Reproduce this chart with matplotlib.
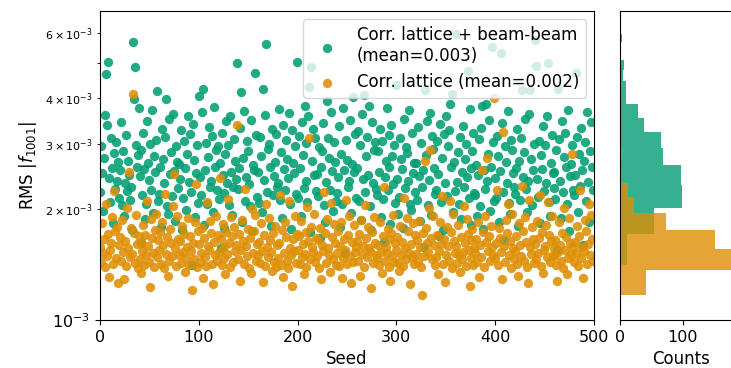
import matplotlib.pyplot as plt
import numpy as np

# RMS |f1001| for each seed (units of 1e-3)
bb_rms = [
    2.22, 2.97, 2.51, 1.98, 2.76, 3.60, 4.64, 3.38, 5.03, 2.43, 2.09, 3.12, 2.58, 1.83, 2.84, 2.27, 3.05, 2.38, 2.69, 2.14,
    2.55, 3.44, 2.05, 2.88, 1.91, 2.36, 3.17, 2.24, 2.71, 2.47, 2.12, 2.29, 1.76, 5.70, 3.97, 4.85, 2.99, 2.61, 2.80, 3.76,
    2.46, 1.62, 2.90, 2.18, 3.21, 2.57, 1.88, 2.07, 3.48, 2.66, 2.40, 3.01, 2.26, 3.71, 1.95, 2.79, 2.52, 3.09, 4.18, 2.11,
    2.20, 2.60, 1.79, 3.30, 2.74, 2.35, 3.14, 3.97, 2.04, 1.94, 3.52, 2.49, 2.86, 2.17, 3.63, 2.54, 1.86, 2.96, 2.68, 2.28,
    2.65, 2.41, 3.27, 1.75, 2.15, 3.07, 2.59, 1.99, 2.83, 3.57, 2.37, 3.19, 2.23, 1.41, 3.41, 2.72, 1.90, 2.50, 2.99, 2.08,
    4.05, 2.44, 2.19, 3.66, 4.23, 1.81, 2.56, 3.03, 2.06, 2.77, 3.35, 2.30, 2.39, 3.15, 1.97, 3.79, 2.61, 2.89, 2.25, 2.97,
    2.13, 2.67, 1.57, 3.22, 2.48, 1.78, 2.21, 2.82, 3.46, 2.36, 2.98, 2.05, 3.58, 2.53, 1.93, 2.29, 3.10, 2.70, 2.42, 5.00,
    2.27, 2.58, 3.33, 4.17, 1.85, 2.75, 3.70, 2.10, 2.45, 3.06, 2.87, 2.34, 2.04, 3.50, 1.74, 2.64, 2.55, 4.67, 3.18, 2.16,
    2.52, 2.08, 3.13, 2.78, 1.96, 4.25, 2.40, 3.61, 5.60, 2.22, 2.91, 3.00, 2.60, 1.80, 3.29, 2.18, 2.46, 2.69, 3.20, 2.30,
    2.35, 3.74, 2.12, 2.85, 1.89, 3.39, 2.57, 2.25, 3.08, 2.73, 2.43, 3.64, 2.06, 1.77, 3.27, 2.66, 2.50, 2.96, 2.20, 5.03,
    2.14, 3.16, 2.59, 1.92, 3.45, 2.80, 2.28, 3.80, 2.38, 3.02, 2.09, 3.59, 4.30, 1.73, 4.85, 2.71, 3.31, 2.47, 3.11, 2.24,
    2.49, 2.17, 2.95, 1.67, 2.61, 2.88, 3.42, 2.05, 1.84, 2.37, 3.92, 3.12, 2.76, 2.26, 3.68, 2.54, 1.98, 3.04, 2.68, 2.11,
    2.21, 2.44, 3.36, 1.79, 2.83, 2.07, 3.77, 2.56, 1.52, 3.09, 2.72, 2.29, 2.39, 3.49, 1.95, 2.65, 4.02, 2.52, 3.19, 2.15,
    2.58, 3.26, 2.10, 2.98, 1.87, 3.62, 2.41, 4.07, 2.23, 2.79, 3.14, 2.48, 3.81, 2.04, 1.76, 3.44, 2.36, 2.90, 3.05, 2.27,
    2.19, 2.87, 2.53, 3.30, 1.90, 3.07, 2.13, 1.63, 2.45, 2.70, 3.77, 2.25, 3.17, 2.60, 1.82, 3.38, 2.78, 2.34, 2.99, 2.08,
    4.35, 2.42, 1.94, 2.16, 3.11, 2.74, 2.57, 1.78, 3.52, 2.28, 2.95, 2.84, 2.38, 3.71, 2.06, 1.99, 3.21, 2.50, 2.67, 2.22,
    2.66, 2.12, 3.34, 2.46, 1.86, 3.02, 2.30, 2.55, 1.58, 4.20, 2.81, 3.47, 2.05, 2.40, 3.65, 1.93, 3.15, 2.91, 2.59, 2.20,
    2.26, 3.06, 2.49, 1.69, 3.40, 2.09, 2.76, 1.75, 3.19, 2.35, 3.57, 2.17, 2.97, 3.28, 3.86, 2.61, 4.12, 1.97, 2.69, 2.24,
    5.98, 2.37, 2.85, 2.07, 3.13, 1.88, 2.52, 3.37, 2.29, 2.73, 3.00, 2.44, 4.73, 2.14, 3.75, 1.81, 2.58, 2.88, 3.22, 2.21,
    2.18, 2.64, 1.91, 2.47, 3.10, 2.04, 3.32, 3.80, 1.77, 2.56, 2.27, 3.87, 2.39, 2.82, 3.50, 1.98, 2.60, 5.50, 3.04, 2.11,
    2.43, 2.15, 3.16, 2.79, 1.85, 2.54, 5.30, 3.43, 2.23, 1.65, 2.96, 2.68, 2.36, 3.69, 2.08, 1.94, 3.08, 2.89, 2.51, 2.30,
    2.20, 2.59, 3.29, 1.80, 2.71, 2.12, 3.12, 4.20, 2.45, 2.86, 3.51, 2.27, 1.96, 2.38, 3.63, 4.20, 2.74, 2.05, 2.55, 3.01,
    5.77, 4.88, 2.41, 2.16, 3.07, 1.83, 2.80, 2.57, 3.36, 2.24, 2.98, 2.35, 3.59, 4.97, 2.09, 1.92, 2.67, 3.18, 2.50, 2.28,
    2.53, 2.13, 2.90, 1.55, 4.25, 3.10, 2.39, 1.89, 3.47, 2.22, 2.77, 3.21, 2.60, 2.06, 3.72, 1.74, 2.46, 2.65, 2.99, 2.25,
    2.18, 2.48, 4.67, 3.14, 1.97, 2.83, 2.31, 3.33, 2.56, 1.60, 2.70, 3.05, 2.10, 3.66, 2.37, 1.84, 2.87, 3.45, 2.61, 2.26,
]

lat_rms = [
    1.58, 1.44, 1.83, 1.52, 1.66, 1.39, 2.07, 1.49, 1.71, 1.31, 1.55, 1.62, 1.90, 1.42, 2.24, 1.74, 1.47, 1.79, 1.26, 1.60,
    1.68, 1.45, 1.87, 1.53, 1.29, 1.64, 1.40, 2.02, 1.57, 2.52, 1.48, 1.78, 1.51, 4.12, 1.72, 1.43, 1.93, 1.61, 1.38, 1.69,
    1.46, 1.63, 1.34, 1.54, 1.81, 1.41, 1.70, 1.50, 2.11, 1.59, 1.44, 1.23, 1.88, 1.67, 1.52, 1.39, 1.75, 1.94, 1.48, 1.65,
    1.55, 1.73, 1.42, 1.85, 1.60, 1.38, 2.20, 1.51, 1.68, 1.32, 1.45, 1.77, 1.62, 1.49, 2.04, 2.49, 1.57, 1.40, 1.91, 1.66,
    1.50, 1.64, 1.43, 1.80, 1.53, 1.71, 1.35, 1.47, 1.58, 1.89, 1.41, 1.69, 1.54, 1.21, 1.62, 1.46, 1.84, 2.34, 1.39, 1.74,
    1.61, 1.44, 1.52, 1.78, 1.30, 1.67, 1.48, 1.40, 2.09, 1.59, 1.55, 1.86, 1.72, 1.42, 1.25, 1.63, 1.50, 1.92, 1.45, 1.70,
    1.53, 2.43, 1.66, 1.41, 1.82, 1.58, 1.47, 1.33, 1.73, 1.51, 2.13, 1.62, 1.39, 1.90, 1.69, 1.44, 1.79, 1.54, 1.60, 3.38,
    1.46, 1.71, 1.28, 1.55, 1.87, 1.64, 1.42, 2.27, 1.59, 1.49, 1.77, 1.38, 1.67, 1.34, 2.00, 1.52, 1.74, 1.93, 1.45, 1.61,
    1.50, 1.63, 1.43, 1.83, 1.54, 1.27, 1.70, 1.40, 2.06, 1.58, 1.48, 1.89, 1.65, 1.53, 1.36, 1.72, 1.44, 1.80, 1.39, 1.60,
    1.47, 1.62, 2.18, 1.41, 1.75, 1.31, 1.52, 1.84, 1.68, 1.45, 1.38, 2.10, 1.57, 1.50, 1.24, 1.66, 1.54, 1.91, 1.43, 1.71,
    1.55, 1.69, 1.42, 1.86, 1.48, 1.61, 1.33, 1.51, 1.73, 1.39, 2.03, 1.64, 3.12, 1.46, 1.79, 1.58, 1.53, 1.94, 1.44, 1.67,
    1.49, 1.65, 1.38, 1.78, 1.29, 1.60, 1.54, 2.22, 1.72, 1.43, 1.88, 1.57, 1.50, 1.35, 2.08, 1.68, 1.46, 1.82, 1.62, 1.41,
    1.52, 1.74, 1.40, 1.59, 1.85, 1.30, 1.47, 1.66, 1.55, 2.12, 1.42, 1.70, 1.92, 1.49, 1.26, 1.63, 1.44, 1.81, 1.53, 1.58,
    1.64, 1.45, 1.71, 1.32, 1.87, 1.51, 1.59, 1.39, 2.05, 1.67, 1.48, 1.79, 1.57, 1.54, 1.22, 1.73, 1.43, 1.90, 1.62, 1.50,
    1.47, 1.60, 1.41, 1.84, 1.53, 1.34, 1.69, 2.29, 1.45, 1.58, 1.52, 1.77, 1.66, 1.39, 1.28, 1.72, 1.49, 1.93, 1.44, 1.62,
    1.55, 1.68, 1.43, 1.36, 1.80, 1.50, 1.63, 1.40, 2.14, 1.57, 1.46, 1.89, 1.74, 1.52, 1.25, 1.61, 1.48, 1.83, 1.42, 1.70,
    1.51, 1.65, 1.44, 1.86, 1.58, 1.39, 1.17, 1.72, 1.49, 2.71, 1.78, 1.62, 1.53, 2.01, 2.89, 1.67, 1.46, 1.92, 1.60, 1.41,
    1.48, 1.70, 1.33, 1.54, 1.84, 1.61, 2.17, 1.42, 1.66, 1.27, 1.50, 1.79, 1.59, 1.45, 2.10, 1.73, 1.38, 1.94, 1.64, 1.52,
    1.59, 1.43, 1.81, 1.50, 1.35, 1.68, 1.46, 1.53, 2.04, 1.62, 1.40, 1.88, 1.71, 1.55, 1.24, 1.65, 1.47, 1.77, 1.41, 1.57,
    1.52, 1.66, 1.44, 1.85, 1.31, 1.60, 1.48, 2.56, 1.73, 1.39, 1.91, 1.63, 2.75, 1.54, 1.69, 1.45, 1.80, 1.58, 1.50, 4.00,
    1.47, 1.62, 2.25, 1.41, 1.78, 1.67, 1.53, 1.29, 3.23, 1.59, 1.44, 1.87, 1.72, 2.07, 1.50, 1.64, 1.38, 1.94, 1.57, 1.46,
    1.54, 1.69, 1.42, 1.32, 1.83, 1.60, 1.49, 2.31, 1.74, 1.45, 1.90, 1.63, 1.39, 1.26, 2.12, 1.58, 1.51, 1.79, 1.66, 1.43,
    1.61, 1.46, 1.86, 1.52, 1.67, 2.19, 1.40, 1.73, 1.34, 1.55, 1.59, 1.81, 1.48, 2.09, 1.70, 1.44, 1.64, 1.92, 1.50, 1.57,
    1.49, 1.65, 1.41, 1.28, 1.53, 1.84, 1.60, 1.45, 1.72, 1.38, 2.02, 1.55, 1.68, 1.33, 1.47, 1.89, 1.62, 1.51, 2.83, 1.58,
    1.44, 1.63, 1.52, 1.80, 1.40, 1.69, 2.26, 1.47, 1.58, 1.30, 1.54, 1.87, 1.74, 1.42, 1.61, 2.06, 1.50, 1.93, 1.66, 1.45,
]

bb = np.array(bb_rms) * 1e-3
lat = np.array(lat_rms) * 1e-3
seeds = np.arange(len(bb))

c_bb = "#029e73"
c_lat = "#de8f05"

plt.rcParams["font.size"] = 12

fig = plt.figure(figsize=(7.31, 3.68), dpi=100)
ax = fig.add_axes([0.1368, 0.1304, 0.6758, 0.8397])
axh = fig.add_axes([0.8482, 0.1304, 0.1683, 0.8397], sharey=ax)

ax.set_yscale("log")
ax.scatter(seeds, bb, s=45, color=c_bb, alpha=0.88, linewidths=0,
           label=f"Corr. lattice + beam-beam\n(mean={bb.mean():.3f})")
ax.scatter(seeds, lat, s=45, color=c_lat, alpha=0.88, linewidths=0,
           label=f"Corr. lattice (mean={lat.mean():.3f})")

# marginal histograms on the same log y axis
axh.hist(bb, bins=15, orientation="horizontal", color=c_bb, alpha=0.8)
axh.hist(lat, bins=15, orientation="horizontal", color=c_lat, alpha=0.8)

ax.set_xlim(0, 500)
ax.set_ylim(1e-3, 6.9e-3)
ax.set_xlabel("Seed")
ax.set_ylabel(r"RMS $|f_{1001}|$")
ax.tick_params(axis="both", which="major", labelsize=11.5)
ax.tick_params(axis="y", which="minor", labelsize=8)
ax.legend(loc="upper right", fontsize=12)

axh.set_xlabel("Counts")
axh.tick_params(axis="x", labelsize=11.5)
axh.tick_params(axis="y", which="both", left=False, labelleft=False)

fig.savefig("out.png", dpi=100)
